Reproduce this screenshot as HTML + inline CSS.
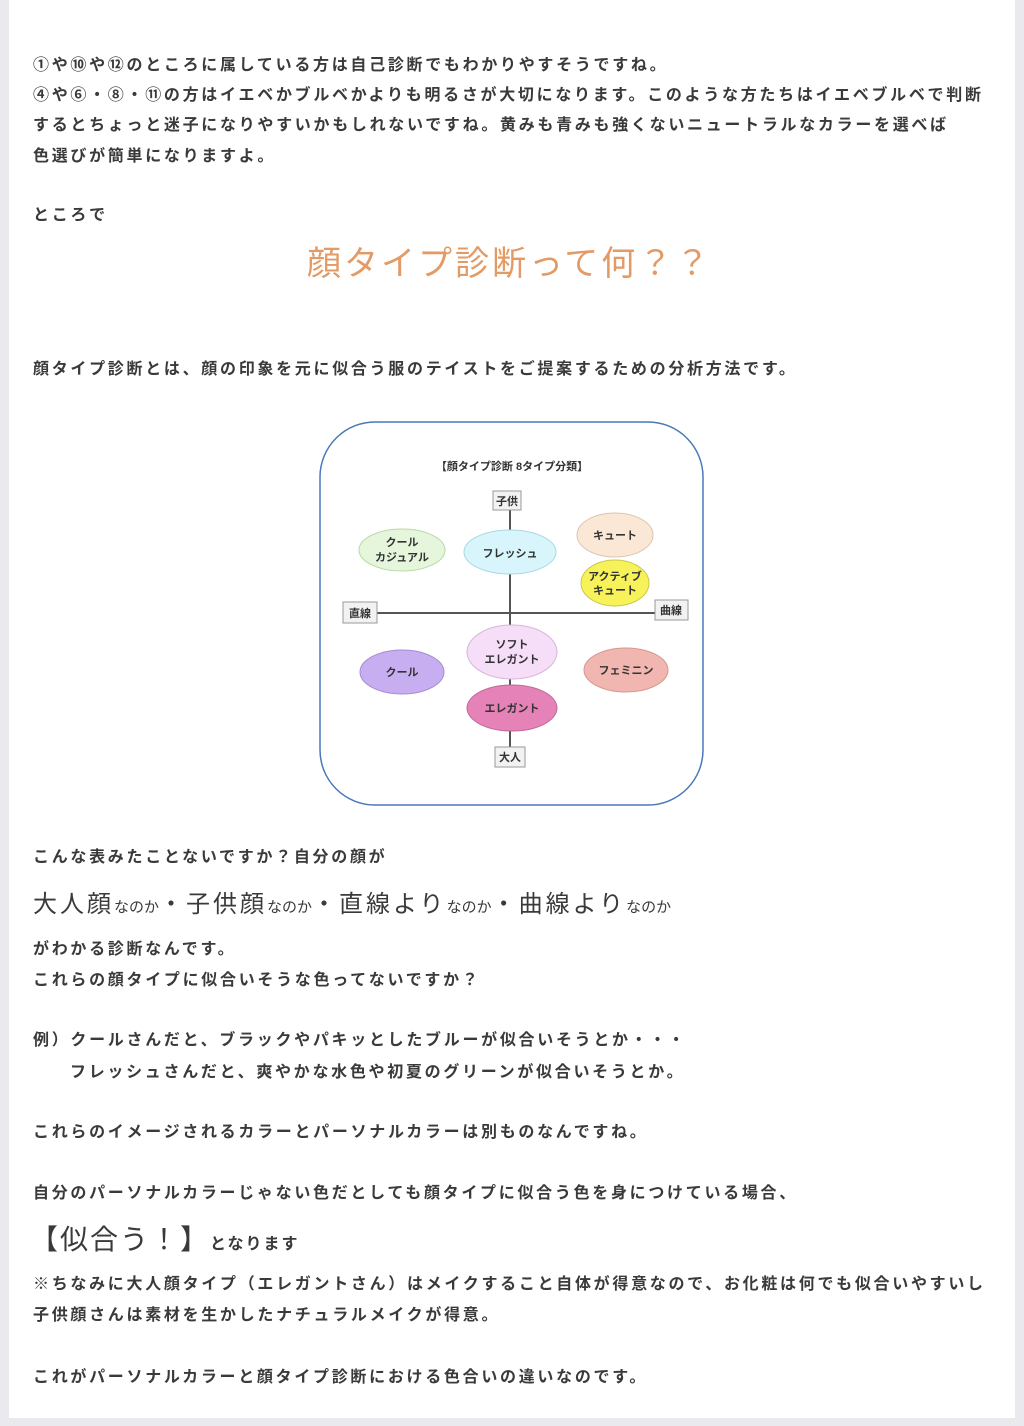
<!DOCTYPE html>
<html><head><meta charset="utf-8">
<style>
html,body{margin:0;padding:0;}
body{width:1024px;height:1426px;background:#e9e9ee;position:relative;overflow:hidden;font-family:"Liberation Sans","Noto Sans CJK JP",sans-serif;}
.page{position:absolute;left:9px;top:0;width:1006px;height:1418px;background:#fff;}
.t{position:absolute;left:33px;font-size:16px;letter-spacing:2.7px;color:#3a3a3a;line-height:24px;white-space:nowrap;font-weight:bold;}
.big{font-size:24px;letter-spacing:3px;font-weight:normal;}
.sm{font-size:15px;letter-spacing:0;}
</style></head><body>
<div class="page"></div>
<div class="t" style="top:54px">①や⑩や⑫のところに属している方は自己診断でもわかりやすそうですね。</div>
<div class="t" style="top:84px">④や⑥・⑧・⑪の方はイエベかブルベかよりも明るさが大切になります。このような方たちはイエベブルベで判断</div>
<div class="t" style="top:114px">するとちょっと迷子になりやすいかもしれないですね。黄みも青みも強くないニュートラルなカラーを選べば</div>
<div class="t" style="top:145px">色選びが簡単になりますよ。</div>
<div class="t" style="top:204px">ところで</div>
<div class="t" style="top:242px;left:307px;font-size:34px;line-height:44px;letter-spacing:3px;color:#e39a64;font-weight:normal">顔タイプ診断って何？？</div>
<div class="t" style="top:358px">顔タイプ診断とは、顔の印象を元に似合う服のテイストをご提案するための分析方法です。</div>

<svg style="position:absolute;left:0;top:0" width="1024" height="1426" font-family="Liberation Sans, Noto Sans CJK JP, sans-serif">
<rect x="320" y="422" width="383" height="383" rx="55" fill="#fff" stroke="#4a78b8" stroke-width="1.5"/>
<text x="512" y="470" font-size="11" font-weight="bold" text-anchor="middle" fill="#333">【顔タイプ診断 8タイプ分類】</text>
<line x1="510" y1="509" x2="510" y2="748" stroke="#555" stroke-width="2"/>
<line x1="377" y1="613" x2="655" y2="613" stroke="#555" stroke-width="2"/>
<g fill="#f2f2f2" stroke="#999">
<rect x="493" y="491" width="28" height="19"/>
<rect x="343" y="602" width="34" height="21"/>
<rect x="655" y="600" width="33" height="20"/>
<rect x="495" y="747" width="30" height="20"/>
</g>
<g font-size="11" font-weight="bold" text-anchor="middle" fill="#333">
<text x="507" y="505">子供</text><text x="360" y="617">直線</text><text x="671" y="614">曲線</text><text x="510" y="761">大人</text>
</g>
<g stroke-width="1">
<ellipse cx="402" cy="550" rx="43" ry="21" fill="#e5f6dc" stroke="#b5dba5"/>
<ellipse cx="510" cy="552" rx="46" ry="22" fill="#d7f5fb" stroke="#a9d8e6"/>
<ellipse cx="615" cy="535" rx="38" ry="22" fill="#fbe7d6" stroke="#dcc5b0"/>
<ellipse cx="615" cy="583" rx="34" ry="23" fill="#f7f25a" stroke="#c9c64a"/>
<ellipse cx="512" cy="652" rx="45" ry="27" fill="#f6ddf8" stroke="#d6b6da"/>
<ellipse cx="402" cy="672" rx="42" ry="22" fill="#c7aef1" stroke="#a38dd0"/>
<ellipse cx="626" cy="670" rx="42" ry="22" fill="#f1b6b0" stroke="#d49890"/>
<ellipse cx="512" cy="708" rx="45" ry="23" fill="#e582b7" stroke="#c06798"/>
</g>
<g font-size="11" font-weight="bold" text-anchor="middle" fill="#333">
<text x="402" y="546">クール</text><text x="402" y="561">カジュアル</text>
<text x="510" y="557">フレッシュ</text>
<text x="615" y="539">キュート</text>
<text x="615" y="580">アクティブ</text><text x="615" y="594">キュート</text>
<text x="512" y="648">ソフト</text><text x="512" y="663">エレガント</text>
<text x="402" y="676">クール</text>
<text x="626" y="674">フェミニン</text>
<text x="512" y="712">エレガント</text>
</g>
</svg>

<div class="t" style="top:846px">こんな表みたことないですか？自分の顔が</div>
<div class="t" style="top:893px;letter-spacing:0;font-weight:normal"><span class="big">大人顔</span><span class="sm">なのか</span><span class="big">・子供顔</span><span class="sm">なのか</span><span class="big">・直線より</span><span class="sm">なのか</span><span class="big">・曲線より</span><span class="sm">なのか</span></div>
<div class="t" style="top:938px">がわかる診断なんです。</div>
<div class="t" style="top:969px">これらの顔タイプに似合いそうな色ってないですか？</div>
<div class="t" style="top:1029px">例）クールさんだと、ブラックやパキッとしたブルーが似合いそうとか・・・</div>
<div class="t" style="top:1061px;left:70px">フレッシュさんだと、爽やかな水色や初夏のグリーンが似合いそうとか。</div>
<div class="t" style="top:1121px">これらのイメージされるカラーとパーソナルカラーは別ものなんですね。</div>
<div class="t" style="top:1182px">自分のパーソナルカラーじゃない色だとしても顔タイプに似合う色を身につけている場合、</div>
<div class="t" style="top:1228px;left:30px;letter-spacing:0;font-weight:normal"><span style="font-size:28px;letter-spacing:2px">【似合う！】</span><span style="font-size:16px;letter-spacing:2px;font-weight:bold">となります</span></div>
<div class="t" style="top:1273px">※ちなみに大人顔タイプ（エレガントさん）はメイクすること自体が得意なので、お化粧は何でも似合いやすいし</div>
<div class="t" style="top:1304px">子供顔さんは素材を生かしたナチュラルメイクが得意。</div>
<div class="t" style="top:1366px">これがパーソナルカラーと顔タイプ診断における色合いの違いなのです。</div>
</body></html>
